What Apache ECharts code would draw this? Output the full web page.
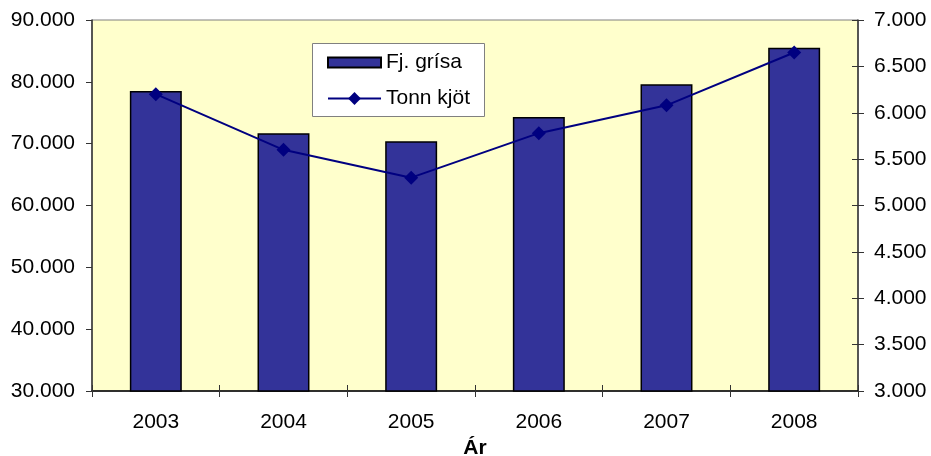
<!DOCTYPE html>
<html><head><meta charset="utf-8">
<script src="https://cdn.jsdelivr.net/npm/echarts@6/dist/echarts.min.js"></script>
<style>html,body{margin:0;padding:0;background:#fff}#c{width:931px;height:456px}</style>
</head><body><div id="c"></div>
<script>
const categories = ['2003','2004','2005','2006','2007','2008'];
const grisa = [78500, 71700, 70400, 74300, 79600, 85500];
const tonn = [6200, 5600, 5300, 5780, 6080, 6650];
const leftTicks = [30000, 90000, 10000];
const rightTicks = [3000, 7000, 500];

function fmt(v){ return String(Math.round(v)).replace(/\B(?=(\d{3})+(?!\d))/g,'.'); }
const font = 'Liberation Sans, Arial, sans-serif';
const chart = echarts.init(document.getElementById('c'));
const legendText = {fontFamily:font,fontSize:21,color:'#000'};
chart.setOption({
  animation:false,
  backgroundColor:'#fff',
  textStyle:{fontFamily:font},
  grid:{left:92,right:73,top:20,bottom:65,outerBoundsMode:'none',containLabel:false,show:true,backgroundColor:'#FFFFCC',borderColor:'#808080',borderWidth:1},
  graphic:[{type:'rect',left:312,top:43,z:3,shape:{width:172,height:73},style:{fill:'#fff',stroke:'#808080',lineWidth:1}}],
  legend:[{
    left:327, top:52, orient:'horizontal', padding:0, z:10,
    itemWidth:53, itemHeight:10, itemGap:7,
    textStyle:legendText,
    data:[{name:'Fj. grísa',icon:'rect'}]
  },{
    left:327, top:88, orient:'horizontal', padding:0, z:10,
    itemWidth:53, itemHeight:16, itemGap:7,
    textStyle:legendText,
    data:[{name:'Tonn kjöt'}]
  }],
  xAxis:[{
    type:'category', data:categories, boundaryGap:true,
    name:'Ár', nameLocation:'middle', nameGap:45,
    nameTextStyle:{fontFamily:font,fontSize:21,fontWeight:'bold',color:'#000'},
    axisLine:{lineStyle:{color:'#000',width:1.5}},
    axisTick:{show:true,inside:false,length:6,lineStyle:{color:'#333'}},
    axisLabel:{fontSize:21,color:'#000',margin:21,fontFamily:font},
    splitLine:{show:false}
  },{
    type:'category', data:categories, boundaryGap:true, position:'bottom', offset:0, z:5,
    axisLine:{show:false}, axisLabel:{show:false},
    axisTick:{show:true,inside:true,length:6,lineStyle:{color:'#333'}}
  }],
  yAxis:[{
    type:'value', min:leftTicks[0], max:leftTicks[1], interval:leftTicks[2],
    axisLine:{show:true,lineStyle:{color:'#333',width:1.5}},
    axisTick:{show:true,length:6,lineStyle:{color:'#333'}},
    axisLabel:{fontSize:21,color:'#000',margin:17,formatter:fmt,fontFamily:font},
    splitLine:{show:false}
  },{
    type:'value', min:rightTicks[0], max:rightTicks[1], interval:rightTicks[2], position:'right',
    axisLine:{show:true,lineStyle:{color:'#333',width:1.5}},
    axisTick:{show:true,length:6,lineStyle:{color:'#333'}},
    axisLabel:{fontSize:21,color:'#000',margin:16,formatter:fmt,fontFamily:font},
    splitLine:{show:false}
  },{
    type:'value', min:rightTicks[0], max:rightTicks[1], interval:rightTicks[2], position:'right', offset:0, z:5,
    axisLine:{show:false}, axisLabel:{show:false},
    axisTick:{show:true,inside:true,length:6,lineStyle:{color:'#333'}},
    splitLine:{show:false}
  }],
  series:[{
    name:'Fj. grísa', type:'bar', data:grisa, barWidth:'40.7%', yAxisIndex:0,
    itemStyle:{color:'#333399',borderColor:'#000',borderWidth:1.5}
  },{
    name:'Tonn kjöt', type:'line', data:tonn, yAxisIndex:1,
    symbol:'diamond', symbolSize:14,
    lineStyle:{color:'#000080',width:2}, itemStyle:{color:'#000080'}
  }]
});
</script></body></html>
